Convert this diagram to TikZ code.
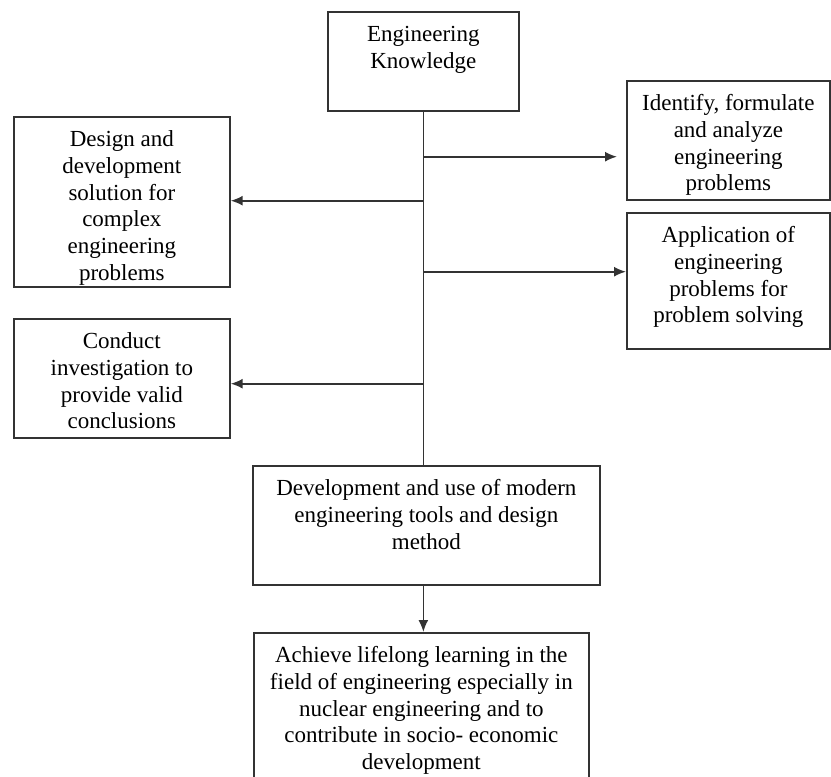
\documentclass[tikz,border=0pt]{standalone}
\usepackage{fontspec}
\setmainfont{Liberation Serif}
\usepackage{tikz}
\usetikzlibrary{arrows.meta}
\newcommand{\boxtxt}[3]{\begin{minipage}[t][#2][t]{#1}\centering\rule{0pt}{30pt}#3\end{minipage}}

\begin{document}
\begin{tikzpicture}[x=1pt, y=-1pt, line width=1.7pt, draw=black!80,
    >={Latex[length=12pt,width=10pt]},
    blk/.style={draw, rectangle, inner sep=0pt, anchor=north west,
      font=\fontsize{23}{26.7}\selectfont}]
    \useasboundingbox (0,0) rectangle (831,777);
    \node [blk] (kn) at (327, 11) {\boxtxt{191pt}{99pt}{Engineering\\Knowledge}};
    \node [blk] (ident) at (626, 80) {\boxtxt{203pt}{119pt}{Identify, formulate\\and analyze\\engineering\\problems}};
    \node [blk] (design) at (13, 116) {\boxtxt{216pt}{170pt}{Design and\\development\\solution for\\complex\\engineering\\problems}};
    \node [blk] (appl) at (626, 212) {\boxtxt{203pt}{136pt}{Application of\\engineering\\problems for\\problem solving}};
    \node [blk] (conduct) at (13, 318) {\boxtxt{216pt}{119pt}{Conduct\\investigation to\\provide valid\\conclusions}};
    \node [blk] (dev) at (252, 465) {\boxtxt{347pt}{119pt}{Development and use of modern\\engineering tools and design\\method}};
    \node [blk] (life) at (253, 632) {\boxtxt{335pt}{160pt}{Achieve lifelong learning in the\\field of engineering especially in\\nuclear engineering and to\\contribute in socio- economic\\development}};
    \coordinate (j1) at ([yshift=-45pt]kn.south);
    \coordinate (j2) at ([yshift=-89pt]kn.south);
    \coordinate (j3) at ([yshift=-160pt]kn.south);
    \coordinate (j4) at ([yshift=-272pt]kn.south);
    \draw (kn.south) -- (kn.south |- dev.north);
    \draw [->, shorten >=9pt] (j1) -- (j1 -| ident.west);
    \draw [->] (j2) -- (j2 -| design.east);
    \draw [->] (j3) -- (j3 -| appl.west);
    \draw [->] (j4) -- (j4 -| conduct.east);
    \draw [->] (kn.south |- dev.south) -- (kn.south |- life.north);
\end{tikzpicture}
\end{document}
